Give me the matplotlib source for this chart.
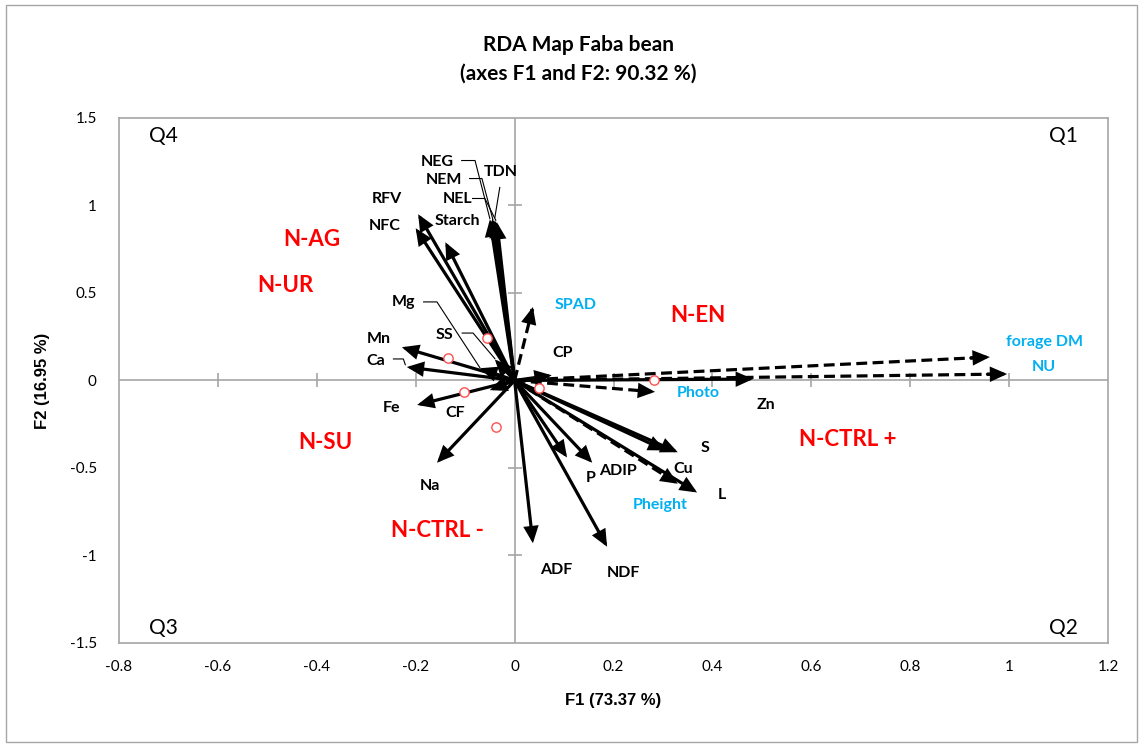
import matplotlib
matplotlib.use("Agg")
import matplotlib.pyplot as plt
from matplotlib.patches import Rectangle

plt.rcParams['font.family'] = ['Lato', 'DejaVu Sans']

# ---- data ----
solid_vars = ["NEG", "NEM", "NEL", "TDN", "Starch", "RFV", "NFC", "Mn", "Ca", "Mg", "SS",
              "Fe", "CF", "Na", "CP", "Zn", "S", "Cu", "P", "ADIP", "L", "ADF", "NDF"]
solid_x = [-0.050, -0.045, -0.040, -0.036, -0.140, -0.195, -0.200, -0.228, -0.218, -0.070, -0.040,
           -0.197, -0.050, -0.157, 0.075, 0.482, 0.330, 0.305, 0.106, 0.157, 0.369, 0.037, 0.187]
solid_y = [0.920, 0.925, 0.915, 0.905, 0.790, 0.950, 0.870, 0.190, 0.077, 0.070, 0.120,
           -0.140, -0.055, -0.470, 0.030, 0.008, -0.410, -0.400, -0.440, -0.470, -0.640, -0.930, -0.950]

dashed_vars = ["SPAD", "forage DM", "NU", "Photo", "Pheight"]
dashed_x = [0.037, 0.961, 0.996, 0.284, 0.330]
dashed_y = [0.420, 0.134, 0.037, -0.065, -0.590]

obs_x = [-0.056, -0.135, -0.102, -0.038, 0.050, 0.281]
obs_y = [0.243, 0.129, -0.066, -0.265, -0.044, 0.002]

treat_names = ["N-AG", "N-UR", "N-EN", "N-SU", "N-CTRL -", "N-CTRL +"]
treat_x = [-0.41, -0.464, 0.371, -0.383, -0.157, 0.674]
treat_y = [0.807, 0.540, 0.370, -0.357, -0.855, -0.340]

# label positions (data coords) for variable names
solid_lab = {"NEG": (-0.157, 1.247), "NEM": (-0.142, 1.145), "NEL": (-0.115, 1.037),
             "TDN": (-0.029, 1.189), "Starch": (-0.116, 0.911), "RFV": (-0.258, 1.037),
             "NFC": (-0.262, 0.883), "Mg": (-0.225, 0.449), "SS": (-0.141, 0.260),
             "Mn": (-0.274, 0.237), "Ca": (-0.280, 0.111), "Fe": (-0.249, -0.157),
             "CF": (-0.120, -0.186), "Na": (-0.171, -0.603), "CP": (0.098, 0.157),
             "Zn": (0.508, -0.140), "S": (0.385, -0.386), "Cu": (0.340, -0.506),
             "P": (0.153, -0.557), "ADIP": (0.209, -0.517), "L": (0.419, -0.654),
             "ADF": (0.084, -1.083), "NDF": (0.221, -1.100)}
dashed_lab = {"SPAD": (0.124, 0.431), "forage DM": (1.072, 0.220), "NU": (1.070, 0.077),
              "Photo": (0.371, -0.071), "Pheight": (0.294, -0.711)}

leaders = {"NEG": [(-0.107, 1.257), (-0.080, 1.257), (-0.050, 0.925)],
           "NEM": [(-0.091, 1.154), (-0.066, 1.154), (-0.044, 0.920)],
           "NEL": [(-0.085, 1.040), (-0.060, 1.040), (-0.038, 0.915)],
           "TDN": [(-0.030, 1.103), (-0.040, 0.930)],
           "Mg": [(-0.184, 0.449), (-0.157, 0.449), (-0.070, 0.072)],
           "SS": [(-0.106, 0.271), (-0.084, 0.271), (-0.040, 0.125)],
           "Ca": [(-0.245, 0.123), (-0.225, 0.123), (-0.221, 0.090)]}

# ---- figure ----
fig = plt.figure(figsize=(11.43, 7.44), dpi=100)
fig.patches.append(Rectangle((0.005, 0.003), 0.99, 0.99, transform=fig.transFigure,
                             fill=False, edgecolor='#a6a6a6', lw=1.0))
ax = fig.add_axes([0.1041, 0.1358, 0.8653, 0.7056])
ax.set_xlim(-0.8, 1.2)
ax.set_ylim(-1.5, 1.5)
for s in ax.spines.values():
    s.set_color('#a6a6a6')
    s.set_linewidth(1.2)
xt = [-0.8, -0.6, -0.4, -0.2, 0, 0.2, 0.4, 0.6, 0.8, 1, 1.2]
yt = [-1.5, -1, -0.5, 0, 0.5, 1, 1.5]
ax.set_xticks(xt)
ax.set_xticklabels(["-0.8", "-0.6", "-0.4", "-0.2", "0", "0.2", "0.4", "0.6", "0.8", "1", "1.2"])
ax.set_yticks(yt)
ax.set_yticklabels(["-1.5", "-1", "-0.5", "0", "0.5", "1", "1.5"])
ax.tick_params(length=0, labelsize=11, pad=12)
ax.tick_params(axis='y', pad=16)

# zero lines with cross ticks
ax.axhline(0, color='#a6a6a6', lw=1.2, zorder=1)
ax.axvline(0, color='#a6a6a6', lw=1.2, zorder=1)
ax.plot(xt[1:-1], [0] * (len(xt) - 2), ls='none', marker='|', ms=10, mew=1.2, color='#a6a6a6', zorder=1)
ax.plot([0] * (len(yt) - 2), yt[1:-1], ls='none', marker='_', ms=10, mew=1.2, color='#a6a6a6', zorder=1)

ap = dict(arrowstyle='-|>,head_length=0.85,head_width=0.38', lw=2.3, color='black',
          shrinkA=0, shrinkB=0, joinstyle='miter')

for n, x, y in zip(solid_vars, solid_x, solid_y):
    ax.annotate('', xy=(x, y), xytext=(0, 0), arrowprops=ap, zorder=3)
for n, x, y in zip(dashed_vars, dashed_x, dashed_y):
    ax.plot([0, x * 0.97], [0, y * 0.97], ls=(0, (3.4, 1.7)), lw=2.3, color='black', zorder=3)
    ax.annotate('', xy=(x, y), xytext=(x * 0.96, y * 0.96), arrowprops=ap, zorder=3)

for n, pts in leaders.items():
    xs = [p[0] for p in pts]
    ys = [p[1] for p in pts]
    ax.plot(xs, ys, color='black', lw=0.8, zorder=2)

for n in solid_vars:
    lx, ly = solid_lab[n]
    ax.text(lx, ly, n, fontsize=11.5, fontweight='bold', ha='center', va='center', color='black', zorder=5)
for n in dashed_vars:
    lx, ly = dashed_lab[n]
    ax.text(lx, ly, n, fontsize=11.5, fontweight='bold', ha='center', va='center', color='#00b0f0', zorder=5)

ax.scatter(obs_x, obs_y, s=45, facecolors='white', edgecolors='#ff5050', linewidths=1.0, zorder=6)

for n, x, y in zip(treat_names, treat_x, treat_y):
    ax.text(x, y, n, fontsize=16, fontweight='bold', ha='center', va='center', color='#ff0000', zorder=5)

ax.text(0.03, 0.985, "Q4", transform=ax.transAxes, fontsize=15, ha='left', va='top')
ax.text(0.97, 0.985, "Q1", transform=ax.transAxes, fontsize=15, ha='right', va='top')
ax.text(0.03, 0.01, "Q3", transform=ax.transAxes, fontsize=15, ha='left', va='bottom')
ax.text(0.97, 0.01, "Q2", transform=ax.transAxes, fontsize=15, ha='right', va='bottom')

ax.set_xlabel("F1 (73.37 %)", fontsize=12, fontweight='bold', family='Liberation Sans', labelpad=14)
ax.set_ylabel("F2 (16.95 %)", fontsize=12, fontweight='bold', family='Liberation Sans', labelpad=14)

fig.text(0.506, 0.94, "RDA Map Faba bean", fontsize=15, fontweight='bold', ha='center', va='center')
fig.text(0.506, 0.901, "(axes F1 and F2: 90.32 %)", fontsize=15, fontweight='bold', ha='center', va='center')

fig.savefig("out.png", dpi=100)
